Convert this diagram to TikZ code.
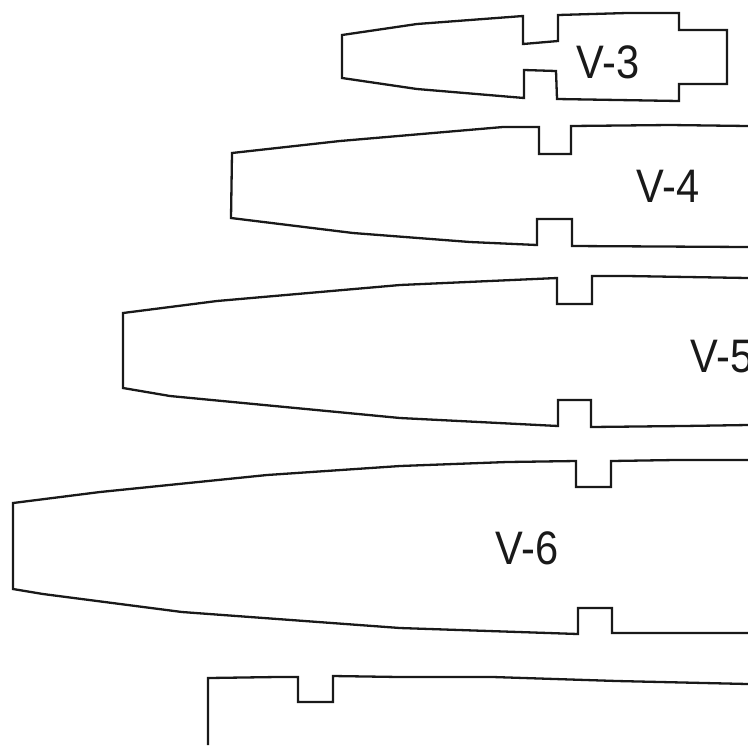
\documentclass[tikz,border=0pt]{standalone}
\usepackage{fontspec}
\setmainfont{Liberation Sans}
\tikzset{outline/.style={draw=black!90, line width=1.15pt, line join=miter}}
\tikzset{partlabel/.style={inner sep=0pt, text=black!90, font=\fontsize{23.5}{26}\selectfont, xscale=0.885}}

\begin{document}
\begin{tikzpicture}[x=0.5pt, y=-0.5pt]

    \useasboundingbox (0, 0) rectangle (748, 745);

    \draw[outline] (342, 35) -- (417, 24) -- (523, 16) -- (523, 44) -- (558, 41) -- (558, 15) -- (627, 13) -- (679, 13) -- (679, 30) -- (727, 30) -- (727, 84) -- (679, 84) -- (679, 101) -- (557, 99) -- (556, 71) -- (524, 70) -- (524, 98) -- (417, 89) -- (342, 78) -- cycle;
    \node[partlabel] (v3) at (608, 62) {V-3};

    \draw[outline] (748, 126) -- (670, 125) -- (571, 126) -- (571, 154) -- (539, 154) -- (539, 127) -- (503, 127) -- (340, 141) -- (232, 153) -- (231, 218) -- (353, 233) -- (470, 242) -- (537, 245) -- (537, 219) -- (572, 219) -- (572, 246) -- (748, 247);
    \node[partlabel] (v4) at (668, 186) {V-4};

    \draw[outline] (748, 278) -- (627, 276) -- (592, 276) -- (592, 304) -- (557, 304) -- (557, 278) -- (400, 285) -- (217, 301) -- (123, 313) -- (123, 388) -- (170, 396) -- (400, 418) -- (558, 426) -- (558, 400) -- (591, 400) -- (591, 427) -- (683, 426) -- (748, 425);
    \node[partlabel] (v5) at (722, 357) {V-5};

    \draw[outline] (748, 460) -- (675, 460) -- (611, 461) -- (611, 487) -- (576, 487) -- (576, 461) -- (507, 462) -- (400, 466) -- (267, 475) -- (100, 492) -- (13, 503) -- (13, 589) -- (43, 594) -- (182, 612) -- (400, 628) -- (578, 634) -- (578, 608) -- (612, 608) -- (612, 633) -- (748, 633);
    \node[partlabel] (v6) at (527, 548) {V-6};

    % last part runs off the page
    \draw[outline] (208, 745) -- (208, 678) -- (277, 677) -- (298, 677) -- (298, 702) -- (333, 702) -- (333, 676) -- (400, 677) -- (493, 677) -- (617, 681) -- (748, 684);

\end{tikzpicture}
\end{document}
